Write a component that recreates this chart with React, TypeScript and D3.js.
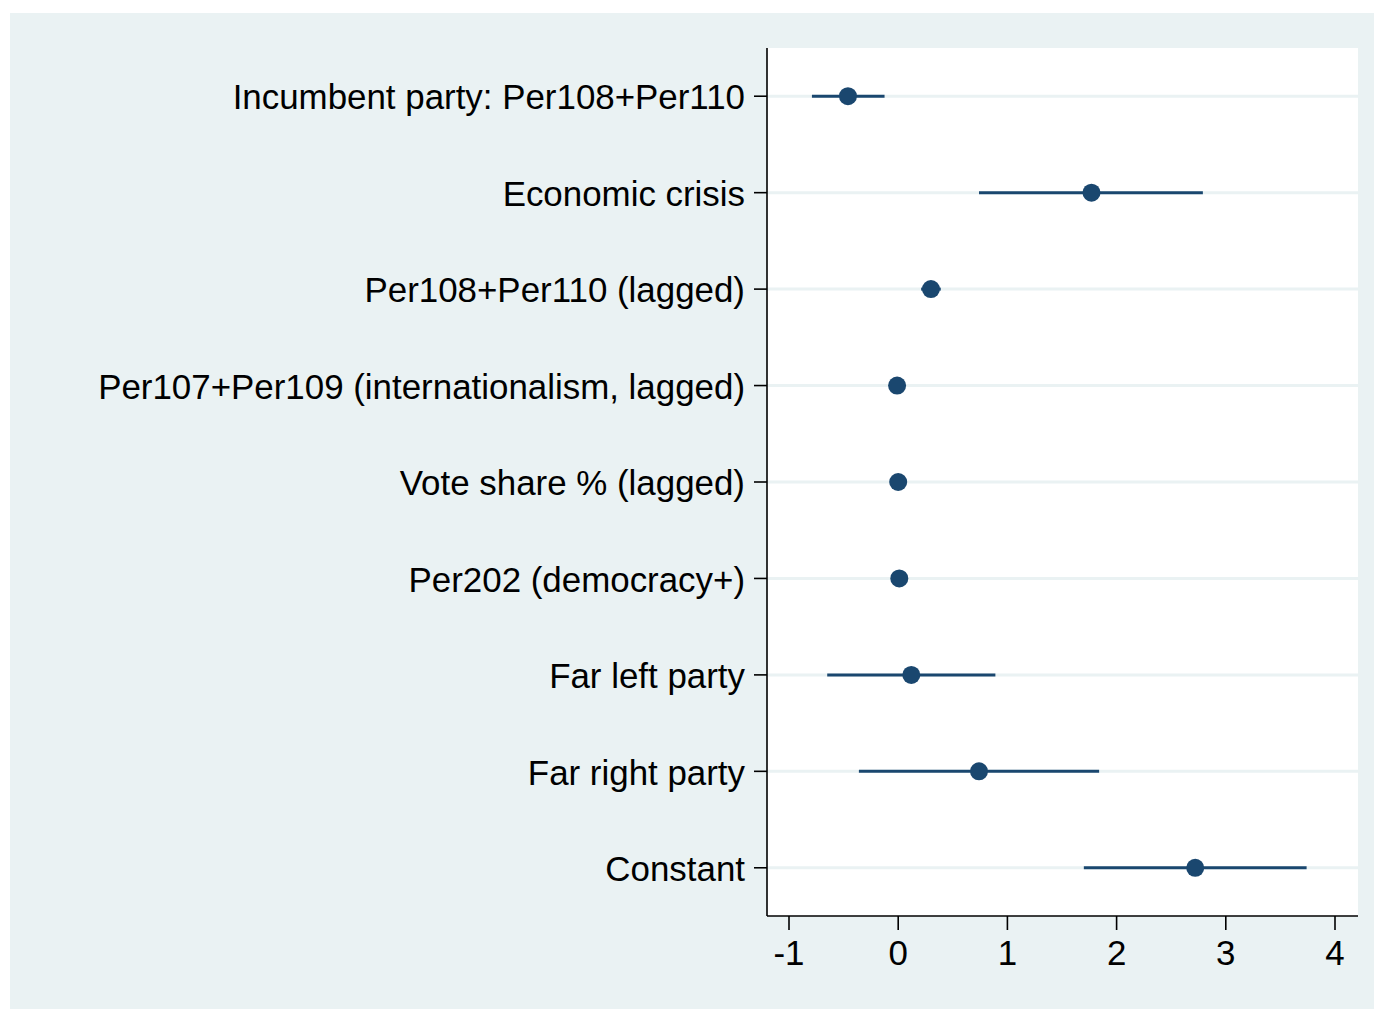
import React from "react";
import * as d3 from "d3";

const categories = [
  "Incumbent party: Per108+Per110",
  "Economic crisis",
  "Per108+Per110 (lagged)",
  "Per107+Per109 (internationalism, lagged)",
  "Vote share % (lagged)",
  "Per202 (democracy+)",
  "Far left party",
  "Far right party",
  "Constant",
];
const estimates = [-0.46, 1.77, 0.3, -0.01, 0.0, 0.01, 0.12, 0.74, 2.72];
const lower = [-0.79, 0.74, 0.21, -0.03, -0.015, -0.005, -0.65, -0.36, 1.7];
const upper = [-0.125, 2.79, 0.39, 0.01, 0.015, 0.025, 0.89, 1.84, 3.74];
const xTicks = [-1, 0, 1, 2, 3, 4];

const W = 1374;
const H = 1010;
const plot = { left: 767, right: 1358, top: 48, bottom: 916 };
const bg = "#eaf2f3";
const navy = "#1a476f";
const font = "'Liberation Sans', Arial, Helvetica, sans-serif";
const fs = 34.9;

export default function App() {
  const x = d3.scaleLinear().domain([-1, 4]).range([789, 1335]);
  const y = d3
    .scaleBand<string>()
    .domain(categories)
    .range([plot.top, plot.bottom])
    .paddingInner(0)
    .paddingOuter(0);
  const cy = (c: string) => (y(c) as number) + y.bandwidth() / 2;

  return (
    <svg
      width={W}
      height={H}
      style={{ position: "absolute", left: 0, top: 0 }}
      fontFamily={font}
    >
      <rect x={0} y={0} width={W} height={H} fill="#ffffff" />
      <rect x={10} y={13} width={W - 10} height={996} fill={bg} />
      <rect
        x={plot.left}
        y={plot.top}
        width={plot.right - plot.left}
        height={plot.bottom - plot.top}
        fill="#ffffff"
      />
      {categories.map((c) => (
        <line
          key={"g" + c}
          x1={plot.left}
          x2={plot.right}
          y1={cy(c)}
          y2={cy(c)}
          stroke={bg}
          strokeWidth={3}
        />
      ))}
      {categories.map((c, i) => (
        <g key={"p" + c}>
          <line
            x1={x(lower[i])}
            x2={x(upper[i])}
            y1={cy(c)}
            y2={cy(c)}
            stroke={navy}
            strokeWidth={3}
          />
          <circle cx={x(estimates[i])} cy={cy(c)} r={9} fill={navy} />
        </g>
      ))}
      <line
        x1={plot.left}
        x2={plot.left}
        y1={plot.top}
        y2={plot.bottom}
        stroke="#000"
        strokeWidth={1.6}
      />
      <line
        x1={plot.left}
        x2={plot.right}
        y1={plot.bottom}
        y2={plot.bottom}
        stroke="#000"
        strokeWidth={1.6}
      />
      {categories.map((c) => (
        <g key={"t" + c}>
          <line
            x1={754}
            x2={plot.left}
            y1={cy(c)}
            y2={cy(c)}
            stroke="#000"
            strokeWidth={1.6}
          />
          <text
            x={745}
            y={cy(c)}
            dy="0.38em"
            textAnchor="end"
            fontSize={fs}
            fill="#000"
          >
            {c}
          </text>
        </g>
      ))}
      {xTicks.map((t) => (
        <g key={"x" + t}>
          <line
            x1={x(t)}
            x2={x(t)}
            y1={plot.bottom}
            y2={plot.bottom + 14}
            stroke="#000"
            strokeWidth={1.6}
          />
          <text
            x={x(t)}
            y={965}
            textAnchor="middle"
            fontSize={fs}
            fill="#000"
          >
            {t}
          </text>
        </g>
      ))}
    </svg>
  );
}
